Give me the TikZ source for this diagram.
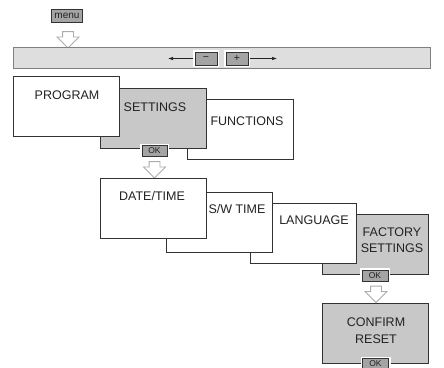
\documentclass[tikz,border=0pt]{standalone}
\usepackage{fontspec}
\setmainfont{Liberation Sans}
\usetikzlibrary{%
    arrows.meta,
    positioning,
    shapes.arrows
}
\definecolor{panelgray}{HTML}{C8C8C8}
\definecolor{bargray}{HTML}{DEDEDE}
\definecolor{keygray}{HTML}{A4A4A4}
\definecolor{arrowgray}{HTML}{ACACAC}
\definecolor{boxline}{HTML}{333333}
\definecolor{textcol}{HTML}{222222}
\tikzset{panelbox/.style = {draw=boxline, line width=.8pt, fill=white,
        minimum width=106pt, minimum height=60pt, inner sep=0pt, outer sep=0pt}}
\tikzset{graypanel/.style = {panelbox, fill=panelgray}}
\tikzset{paneltext/.style = {font=\fontsize{12.5}{16}\selectfont, align=center,
        inner sep=0pt, text=textcol}}
\tikzset{keybtn/.style = {draw=boxline, line width=.7pt, fill=keygray,
        minimum width=25pt, minimum height=11pt, inner sep=0pt, outer sep=2pt,
        font=\fontsize{8.5}{9}\selectfont, text=textcol,
        preaction={draw=white, line width=4pt}}}
\tikzset{downarrow/.style = {single arrow, draw=arrowgray, line width=.9pt,
        fill=white, shape border rotate=270, minimum width=21pt,
        minimum height=14pt, inner sep=5pt, single arrow head extend=5.5pt}}
\tikzset{headarrow/.style = {-{Latex[length=5pt,width=3.5pt]}, line width=.6pt,
        draw=textcol}}

\begin{document}
\begin{tikzpicture}[x=1pt, y=-1pt]
    \useasboundingbox (0,0) rectangle (444,367);
    \clip (0,0) rectangle (444,367);

    % menu key and the bar
    \node[keybtn, minimum width=31pt, minimum height=13pt,
        font=\fontsize{10}{11}\selectfont] (menu) at (67,16) {menu};
    \node[downarrow] (menu-arrow) at (68,37) {};
    \node[draw=gray, line width=.8pt, fill=bargray, minimum width=417pt,
        minimum height=21pt, inner sep=0pt] (bar) at (221.5,57.5) {};
    \node[keybtn, minimum width=22pt, minimum height=13pt,
        font=\fontsize{10.5}{11}\selectfont] (minus) at (206,58.5) {−};
    \node[keybtn, minimum width=22pt, minimum height=13pt,
        font=\fontsize{10.5}{11}\selectfont] (plus) at (237,58.5) {+};
    \coordinate (left-tip) at (168,58.5);
    \coordinate (right-tip) at (277,58.5);
    \draw[headarrow] (minus) -- (left-tip);
    \draw[headarrow] (plus) -- (right-tip);

    % main menu
    \node[panelbox] (functions) at (240.5,129) {};
    \node[graypanel] (settings) at (153.5,118) {};
    \node[panelbox] (program) at (66.5,106.5) {};
    \node[paneltext] (program-text) at (67,95) {PROGRAM};
    \node[paneltext] (settings-text) at (155,107) {SETTINGS};
    \node[paneltext] (functions-text) at (247,121) {FUNCTIONS};
    \node[keybtn] (settings-ok) at (154.5,151) {OK};
    \node[downarrow] (settings-arrow) at (154.5,167) {};

    % settings menu
    \node[graypanel] (factory) at (375.5,244) {};
    \node[panelbox] (language) at (303,233.5) {};
    \node[panelbox] (swtime) at (219,222.5) {};
    \node[panelbox] (datetime) at (153.5,208.5) {};
    \node[paneltext] (datetime-text) at (152,196) {DATE/TIME};
    \node[paneltext] (swtime-text) at (237,209) {S/W TIME};
    \node[paneltext] (language-text) at (314,220) {LANGUAGE};
    \node[paneltext] (factory-text) at (392,240) {FACTORY\\SETTINGS};
    \node[keybtn, minimum width=26pt] (factory-ok) at (375,275.5) {OK};
    \node[downarrow] (factory-arrow) at (376,291.5) {};

    % confirmation
    \node[graypanel] (confirm) at (375.5,333) {};
    \node[paneltext, font=\fontsize{12.5}{17}\selectfont] (confirm-text)
        at (376,330.5) {CONFIRM\\RESET};
    \node[keybtn, minimum width=26pt] (confirm-ok) at (375.5,364) {OK};
\end{tikzpicture}
\end{document}
